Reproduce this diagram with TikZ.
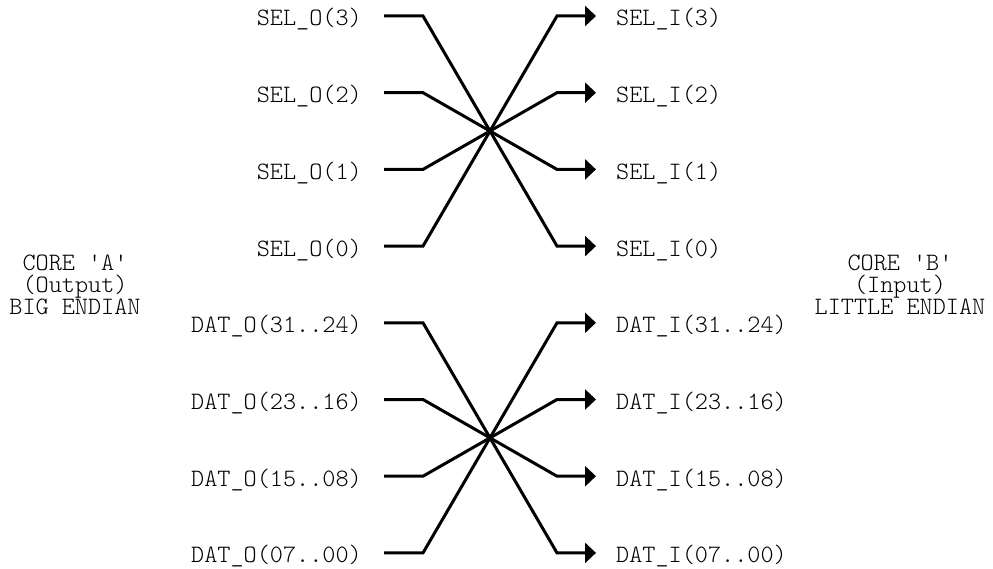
\documentclass[tikz,border=0pt]{standalone}
\usepackage{fontspec}
\setmonofont{Latin Modern Mono Light}
\usetikzlibrary{arrows.meta}
\begin{document}
\begin{tikzpicture}[x=1pt,y=-1pt,
  lbl/.style={inner sep=0pt,font=\ttfamily\fontsize{25}{22}\selectfont},
  lout/.style={lbl,anchor=base east},
  lin/.style={lbl,anchor=base west},
  core/.style={inner sep=0pt,align=center,font=\ttfamily\fontsize{25}{22}\selectfont},
  wire/.style={line width=3pt,line join=miter,-{Triangle[length=11pt,width=20pt]}}]
\useasboundingbox (0,0) rectangle (993,569);
% left labels
\foreach \n/\t/\y in {s3/SEL\_O(3)/16, s2/SEL\_O(2)/92.7, s1/SEL\_O(1)/169.4, s0/SEL\_O(0)/246.1,
  d3/DAT\_O(31..24)/322.8, d2/DAT\_O(23..16)/399.5, d1/DAT\_O(15..08)/476.2, d0/DAT\_O(07..00)/552.9}
  \node[lout] (o\n) at (362,\y+10) {\t};
% right labels
\foreach \n/\t/\y in {s3/SEL\_I(3)/16, s2/SEL\_I(2)/92.7, s1/SEL\_I(1)/169.4, s0/SEL\_I(0)/246.1,
  d3/DAT\_I(31..24)/322.8, d2/DAT\_I(23..16)/399.5, d1/DAT\_I(15..08)/476.2, d0/DAT\_I(07..00)/552.9}
  \node[lin] (i\n) at (616,\y+10) {\t};
% core labels
\node[core] (coreA) at (75,285) {CORE \textquotesingle A\textquotesingle\\(Output)\\BIG ENDIAN};
\node[core] (coreB) at (900,285) {CORE \textquotesingle B\textquotesingle\\(Input)\\LITTLE ENDIAN};
% wires
\foreach \a/\b in {s3/s0, s2/s1, s1/s2, s0/s3, d3/d0, d2/d1, d1/d2, d0/d3}
  \draw[wire] ([xshift=22pt,yshift=10pt]o\a.base east) -- ++(39,0)
     -- ([xshift=-59pt,yshift=10pt]i\b.base west) -- ++(39,0);
\end{tikzpicture}
\end{document}
